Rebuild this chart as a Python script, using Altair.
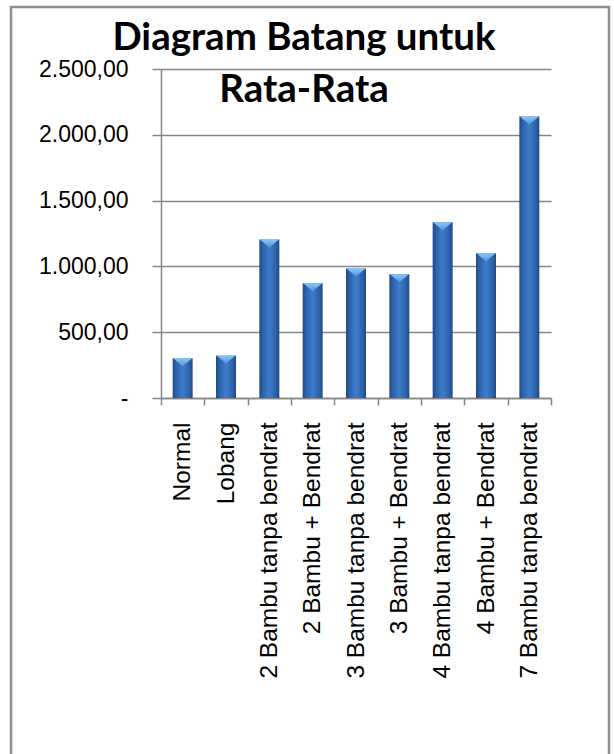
import altair as alt
import pandas as pd

categories = [
    "Normal",
    "Lobang",
    "2 Bambu tanpa bendrat",
    "2 Bambu + Bendrat",
    "3 Bambu tanpa bendrat",
    "3 Bambu + Bendrat",
    "4 Bambu tanpa bendrat",
    "4 Bambu + Bendrat",
    "7 Bambu tanpa bendrat",
]
values = [302, 322, 1205, 872, 984, 941, 1335, 1100, 2140]
y_ticks = [0, 500, 1000, 1500, 2000, 2500]
title_lines = ["Diagram Batang untuk", "Rata-Rata"]

df = pd.DataFrame({"kategori": categories, "rata": values})
title_df = pd.DataFrame({"line": title_lines})
frame_df = pd.DataFrame({"k": [0]})

bar_fill = alt.LinearGradient(
    gradient="linear",
    x1=0, x2=1, y1=0, y2=0,
    stops=[
        alt.GradientStop(color="#1f4c88", offset=0),
        alt.GradientStop(color="#2f64ab", offset=0.2),
        alt.GradientStop(color="#3d7dcc", offset=0.5),
        alt.GradientStop(color="#2f64ab", offset=0.8),
        alt.GradientStop(color="#1f4c88", offset=1),
    ],
)
cap_fill = alt.LinearGradient(
    gradient="linear",
    x1=0, x2=0, y1=0, y2=1,
    stops=[
        alt.GradientStop(color="#8cc6f2", offset=0),
        alt.GradientStop(color="#4f95dc", offset=1),
    ],
)

x_enc = alt.X(
    "kategori:N",
    sort=categories,
    scale=alt.Scale(paddingInner=0, paddingOuter=0),
    axis=alt.Axis(
        title=None,
        labelAngle=-90,
        labelPadding=17,
        tickBand="extent",
        tickSize=7,
        labelFontSize=24.5,
        labelLimit=400,
    ),
)
y_enc = alt.Y(
    "rata:Q",
    scale=alt.Scale(domain=[0, 2500], nice=False),
    axis=alt.Axis(
        title=None,
        values=y_ticks,
        tickSize=9,
        labelPadding=24,
        labelFontSize=23,
        labelExpr="datum.value == 0 ? '-' : replace(replace(replace(format(datum.value, ',.2f'), ',', 'X'), '.', ','), 'X', '.')",
    ),
)

frame = alt.Chart(frame_df).mark_rect(
    fill="white", fillOpacity=0, stroke="#8f8f8f", strokeWidth=2.5
).encode(
    x=alt.value(-150), x2=alt.value(448), y=alt.value(-62), y2=alt.value(740)
)

bars = alt.Chart(df).mark_bar(size=20, color=bar_fill).encode(x=x_enc, y=y_enc)

caps = alt.Chart(df).mark_point(
    shape="M-0.95,0L0.95,0L0,0.8Z", size=400, filled=True, color=cap_fill, opacity=1, strokeWidth=0
).encode(x=alt.X("kategori:N", sort=categories), y=alt.Y("rata:Q"))

title_style = dict(font="Lato", fontWeight="bold", fontSize=38.5, color="black", align="center", baseline="alphabetic")
title1 = alt.Chart(title_df).transform_filter(
    alt.datum.line == title_lines[0]
).mark_text(**title_style).encode(text="line:N", x=alt.value(143), y=alt.value(-19))
title2 = alt.Chart(title_df).transform_filter(
    alt.datum.line == title_lines[1]
).mark_text(**title_style).encode(text="line:N", x=alt.value(143), y=alt.value(33))

chart = alt.layer(frame, bars, caps, title1, title2).properties(
    width=390,
    height=329,
    padding={"left": 161, "top": 69, "right": 63, "bottom": 356},
    autosize=alt.AutoSizeParams(type="none"),
    background="white",
).configure_view(strokeWidth=0).configure_axis(
    labelFont="Liberation Sans",
    labelColor="black",
    domainColor="#868686",
    domainWidth=1.5,
    tickColor="#868686",
    tickWidth=1.5,
    gridColor="#868686",
    gridWidth=1.5,
).configure_axisX(grid=False)

chart.save("out.html", embed_options={"renderer": "svg", "actions": False})
